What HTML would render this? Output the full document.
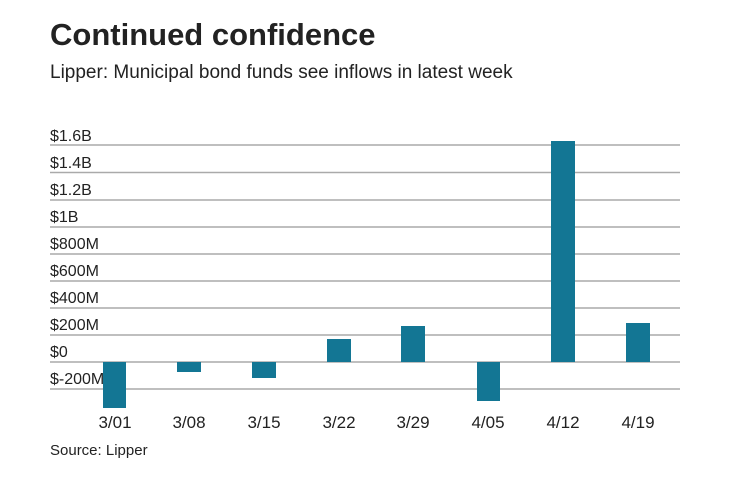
<!DOCTYPE html>
<html><head><style>
body{margin:0;background:#fff;}
svg text{font-family:"Liberation Sans",sans-serif;fill:#222;}
</style></head><body>
<svg width="740" height="482" xmlns="http://www.w3.org/2000/svg">
<text x="50" y="45" font-size="31" font-weight="bold">Continued confidence</text>
<text x="50" y="78" font-size="19">Lipper: Municipal bond funds see inflows in latest week</text>
<g stroke="#aaa" stroke-width="1.5">
<line x1="50" x2="680" y1="145" y2="145"/><line x1="50" x2="680" y1="172.5" y2="172.5"/>
<line x1="50" x2="680" y1="200" y2="200"/><line x1="50" x2="680" y1="227" y2="227"/>
<line x1="50" x2="680" y1="254" y2="254"/><line x1="50" x2="680" y1="281" y2="281"/>
<line x1="50" x2="680" y1="308" y2="308"/><line x1="50" x2="680" y1="335" y2="335"/>
<line x1="50" x2="680" y1="362" y2="362"/><line x1="50" x2="680" y1="389" y2="389"/>
</g>
<g font-size="16">
<text x="50" y="141">$1.6B</text><text x="50" y="168">$1.4B</text><text x="50" y="195">$1.2B</text>
<text x="50" y="222">$1B</text><text x="50" y="249">$800M</text><text x="50" y="276">$600M</text>
<text x="50" y="303">$400M</text><text x="50" y="330">$200M</text><text x="50" y="357">$0</text>
<text x="50" y="384">$-200M</text>
</g>
<g fill="#137694">
<rect x="103" y="362" width="23" height="46"/>
<rect x="177" y="362" width="24" height="10"/>
<rect x="252" y="362" width="24" height="16"/>
<rect x="327" y="339" width="24" height="23"/>
<rect x="401" y="326" width="24" height="36"/>
<rect x="477" y="362" width="23" height="39"/>
<rect x="551" y="141" width="24" height="221"/>
<rect x="626" y="323" width="24" height="39"/>
</g>
<g font-size="17" text-anchor="middle">
<text x="115" y="428">3/01</text><text x="189" y="428">3/08</text><text x="264" y="428">3/15</text>
<text x="339" y="428">3/22</text><text x="413" y="428">3/29</text><text x="488" y="428">4/05</text>
<text x="563" y="428">4/12</text><text x="638" y="428">4/19</text>
</g>
<text x="50" y="455" font-size="15">Source: Lipper</text>
</svg>
</body></html>
